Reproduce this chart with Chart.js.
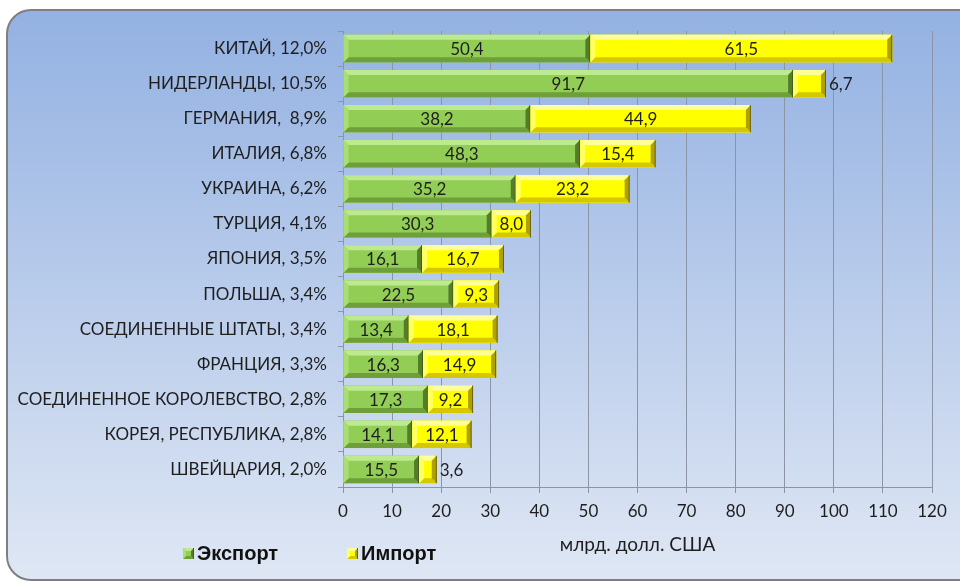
<!DOCTYPE html>
<html>
<head>
<meta charset="utf-8">
<script src="https://cdn.jsdelivr.net/npm/chart.js@4.4.0/dist/chart.umd.min.js"></script>
<style>
  html, body { margin: 0; background: #fff; }
</style>
</head>
<body>
<canvas id="tradeChart" width="960" height="585"></canvas>
<script>
var countries = [
    'КИТАЙ, 12,0%',
    'НИДЕРЛАНДЫ, 10,5%',
    'ГЕРМАНИЯ,  8,9%',
    'ИТАЛИЯ, 6,8%',
    'УКРАИНА, 6,2%',
    'ТУРЦИЯ, 4,1%',
    'ЯПОНИЯ, 3,5%',
    'ПОЛЬША, 3,4%',
    'СОЕДИНЕННЫЕ ШТАТЫ, 3,4%',
    'ФРАНЦИЯ, 3,3%',
    'СОЕДИНЕННОЕ КОРОЛЕВСТВО, 2,8%',
    'КОРЕЯ, РЕСПУБЛИКА, 2,8%',
    'ШВЕЙЦАРИЯ, 2,0%'
];
var exportValues = [50.4, 91.7, 38.2, 48.3, 35.2, 30.3, 16.1, 22.5, 13.4, 16.3, 17.3, 14.1, 15.5];
var importValues = [61.5, 6.7, 44.9, 15.4, 23.2, 8.0, 16.7, 9.3, 18.1, 14.9, 9.2, 12.1, 3.6];
var axisTitle = 'млрд. долл. США';

var labelFont = 'Lato, "Open Sans", sans-serif';
var textColor = '#1e1e1e';
var gridColor = '#8b95a5';

// light / dark edges for the bevelled bars
var bevels = [
    { body: '#92ce55', top: '#bde98f', left: '#a9df72', bottom: '#6f9f38', right: '#557d27', line: '#3f5e1c' },
    { body: '#ffff00', top: '#ffff9a', left: '#ffff66', bottom: '#d6c800', right: '#b0a000', line: '#6e6400' }
];

var drawBevel = function (ctx, l, t, r, b, style, s) {
    ctx.fillStyle = style.body;
    ctx.fillRect(l, t, r - l, b - t);
    var poly = function (pts, color) {
        ctx.beginPath();
        ctx.moveTo(pts[0], pts[1]);
        for (var k = 2; k < pts.length; k += 2) ctx.lineTo(pts[k], pts[k + 1]);
        ctx.closePath();
        ctx.fillStyle = color;
        ctx.fill();
    };
    poly([l, t, r, t, r - s, t + s, l + s, t + s], style.top);
    poly([l, b, r, b, r - s, b - s, l + s, b - s], style.bottom);
    poly([l, t, l + s, t + s, l + s, b - s, l, b], style.left);
    poly([r, t, r - s, t + s, r - s, b - s, r, b], style.right);
    ctx.fillStyle = style.line;
    ctx.fillRect(r - 1, t, 1, b - t);
};

var panelPlugin = {
    id: 'panel',
    beforeDraw: function (chart) {
        var ctx = chart.ctx;
        ctx.save();
        var grad = ctx.createLinearGradient(0, 10, 0, 580);
        grad.addColorStop(0, '#93b1e2');
        grad.addColorStop(1, '#dfe7f4');
        ctx.beginPath();
        ctx.roundRect(7, 10, 1000, 570, 24);
        ctx.fillStyle = grad;
        ctx.fill();
        ctx.lineWidth = 2;
        ctx.strokeStyle = '#7f7f7f';
        ctx.stroke();
        ctx.restore();
    }
};

var bevelPlugin = {
    id: 'bevel',
    afterDatasetsDraw: function (chart) {
        var ctx = chart.ctx;
        ctx.save();
        chart.data.datasets.forEach(function (ds, di) {
            chart.getDatasetMeta(di).data.forEach(function (bar) {
                var p = bar.getProps(['x', 'y', 'base', 'height'], true);
                drawBevel(ctx, Math.min(p.base, p.x), p.y - p.height / 2,
                    Math.max(p.base, p.x), p.y + p.height / 2, bevels[di], 5);
            });
        });
        ctx.restore();
    }
};

var valueLabels = {
    id: 'valueLabels',
    afterDatasetsDraw: function (chart) {
        var ctx = chart.ctx;
        ctx.save();
        ctx.font = '17px ' + labelFont;
        ctx.fillStyle = textColor;
        ctx.textBaseline = 'middle';
        chart.data.datasets.forEach(function (ds, di) {
            chart.getDatasetMeta(di).data.forEach(function (bar, i) {
                var p = bar.getProps(['x', 'y', 'base'], true);
                var text = ds.data[i].toFixed(1).replace('.', ',');
                if (p.x - p.base < 35) {
                    ctx.textAlign = 'left';
                    ctx.fillText(text, p.x + 3, p.y + 1);
                } else {
                    ctx.textAlign = 'center';
                    ctx.fillText(text, (p.x + p.base) / 2, p.y + 1);
                }
            });
        });
        ctx.restore();
    }
};

var legendPlugin = {
    id: 'bottomLegend',
    afterDraw: function (chart) {
        var ctx = chart.ctx;
        var xs = [183, 347];
        ctx.save();
        ctx.font = 'bold 20px "Liberation Sans", Arial, sans-serif';
        ctx.textBaseline = 'middle';
        ctx.textAlign = 'left';
        chart.data.datasets.forEach(function (ds, di) {
            drawBevel(ctx, xs[di], 548, xs[di] + 11, 559, bevels[di], 3);
            ctx.fillStyle = '#111';
            ctx.fillText(ds.label, xs[di] + 14, 554);
        });
        ctx.restore();
    }
};

new Chart('tradeChart', {
    type: 'bar',
    data: {
        labels: countries,
        datasets: [{
            label: 'Экспорт',
            data: exportValues,
            backgroundColor: '#92ce55'
        }, {
            label: 'Импорт',
            data: importValues,
            backgroundColor: '#ffff00'
        }]
    },
    options: {
        indexAxis: 'y',
        responsive: false,
        animation: false,
        events: [],
        layout: { padding: { top: 31, right: 28, bottom: 0, left: 0 } },
        datasets: { bar: { categoryPercentage: 1, barPercentage: 0.78 } },
        plugins: {
            legend: { display: false },
            tooltip: { enabled: false }
        },
        scales: {
            x: {
                stacked: true,
                min: 0,
                max: 120,
                ticks: { stepSize: 10, padding: 8, color: textColor, font: { family: labelFont, size: 17 } },
                grid: { color: gridColor, tickLength: 6 },
                border: { color: gridColor },
                title: {
                    display: true,
                    text: axisTitle,
                    color: textColor,
                    font: { family: labelFont, size: 19 },
                    padding: { top: 0, bottom: 29 }
                },
                afterFit: function (scale) { scale.height = 98; }
            },
            y: {
                stacked: true,
                ticks: { padding: 11, color: textColor, font: { family: labelFont, size: 17 } },
                grid: { drawOnChartArea: false, tickLength: 5, color: gridColor },
                border: { color: gridColor },
                afterFit: function (scale) { scale.width = 343; }
            }
        }
    },
    plugins: [panelPlugin, bevelPlugin, valueLabels, legendPlugin]
});
</script>
</body>
</html>
